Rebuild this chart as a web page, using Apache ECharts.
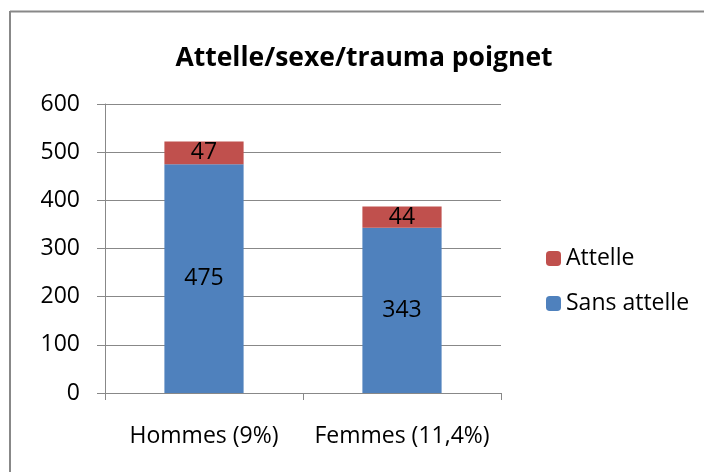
<!DOCTYPE html>
<html><head><meta charset="utf-8">
<script src="https://cdn.jsdelivr.net/npm/echarts@6/dist/echarts.min.js"></script>
<style>html,body{margin:0;padding:0;background:#fff}#c{width:704px;height:472px}</style>
</head><body><div id="c"></div>
<script>
var categories = ['Hommes (9%)', 'Femmes (11,4%)'];
var sansAttelle = [475, 343];
var attelle = [47, 44];
var yTicks = [0, 100, 200, 300, 400, 500, 600];

var chart = echarts.init(document.getElementById('c'));
var font = '"Open Sans", "Noto Sans", sans-serif';
chart.setOption({
  animation: false,
  textStyle: { fontFamily: font },
  graphic: [
    { type: 'line', shape: { x1: 10, y1: 11.5, x2: 704, y2: 11.5 }, style: { stroke: '#888', lineWidth: 2 } },
    { type: 'line', shape: { x1: 10, y1: 11, x2: 10, y2: 472 }, style: { stroke: '#888', lineWidth: 2 } }
  ],
  title: { text: 'Attelle/sexe/trauma poignet', left: 359, top: 40, textAlign: 'center',
    textStyle: { fontFamily: font, fontWeight: 'bold', fontSize: 26.5, color: '#000' } },
  legend: { orient: 'vertical', left: 541, top: 242, itemWidth: 15, itemHeight: 15, itemGap: 22,
    textStyle: { fontFamily: font, fontSize: 23, color: '#000' },
    data: ['Attelle', 'Sans attelle'] },
  grid: { left: 105, right: 203, top: 104, bottom: 79, containLabel: false },
  xAxis: { type: 'category', data: categories,
    axisLine: { lineStyle: { color: '#888' } },
    axisTick: { show: true, length: 7, lineStyle: { color: '#888' } },
    axisLabel: { fontSize: 23, color: '#000', margin: 32, fontFamily: font, interval: 0, hideOverlap: false } },
  yAxis: { type: 'value', min: 0, max: 600, interval: 100,
    axisLine: { show: true, lineStyle: { color: '#888' } },
    axisTick: { show: true, length: 8, lineStyle: { color: '#888' } },
    splitLine: { lineStyle: { color: '#888' } },
    axisLabel: { fontSize: 23, color: '#000', margin: 25, fontFamily: font,
      formatter: function (v) { return yTicks.indexOf(v) >= 0 ? String(v) : ''; } } },
  series: [
    { name: 'Sans attelle', type: 'bar', stack: 's', data: sansAttelle, barWidth: '40%',
      itemStyle: { color: '#4F81BD' },
      label: { show: true, position: 'inside', fontSize: 23, color: '#000', fontFamily: font } },
    { name: 'Attelle', type: 'bar', stack: 's', data: attelle, barWidth: '40%',
      itemStyle: { color: '#C0504D' },
      label: { show: true, position: 'inside', fontSize: 23, color: '#000', fontFamily: font } }
  ]
});
</script></body></html>
